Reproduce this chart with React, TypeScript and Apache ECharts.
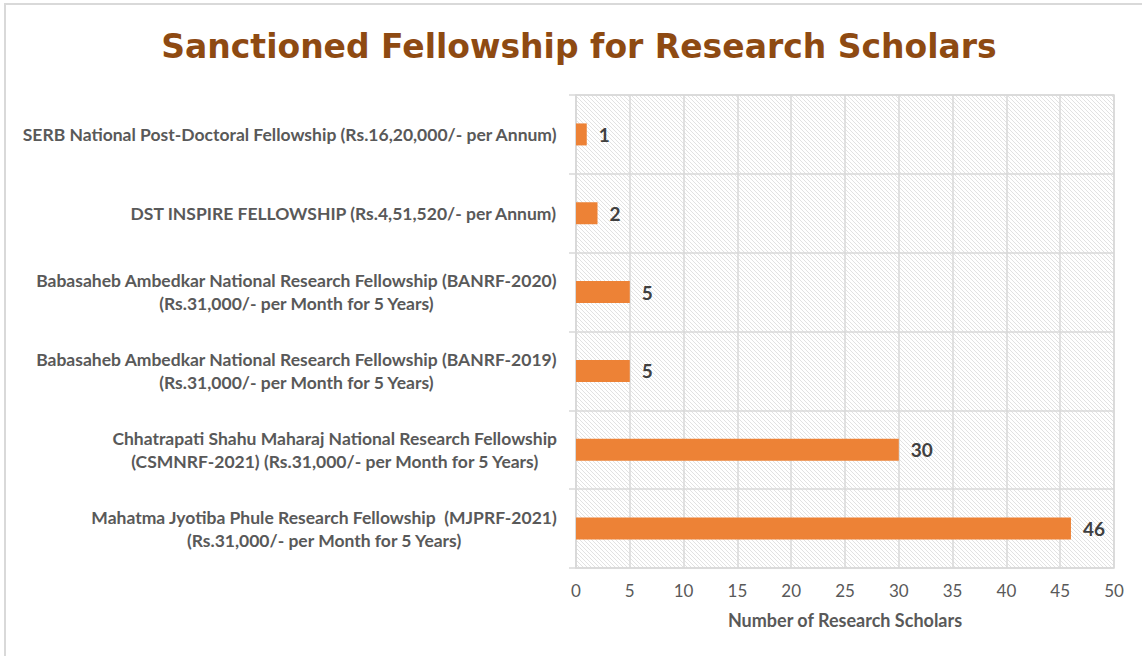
import React, { useEffect, useRef } from "react";
import * as echarts from "echarts";

const categories: string[] = [
  "Mahatma Jyotiba Phule Research Fellowship  (MJPRF-2021)\n(Rs.31,000/- per Month for 5 Years)",
  "Chhatrapati Shahu Maharaj National Research Fellowship\n(CSMNRF-2021) (Rs.31,000/- per Month for 5 Years)",
  "Babasaheb Ambedkar National Research Fellowship (BANRF-2019)\n(Rs.31,000/- per Month for 5 Years)",
  "Babasaheb Ambedkar National Research Fellowship (BANRF-2020)\n(Rs.31,000/- per Month for 5 Years)",
  "DST INSPIRE FELLOWSHIP (Rs.4,51,520/- per Annum)",
  "SERB National Post-Doctoral Fellowship (Rs.16,20,000/- per Annum)",
];
const scholars: number[] = [46, 30, 5, 5, 2, 1];

const titleText = "Sanctioned Fellowship for Research Scholars";
const xAxisName = "Number of Research Scholars";

function makeHatch(): HTMLCanvasElement {
  const c = document.createElement("canvas");
  c.width = 4;
  c.height = 4;
  const ctx = c.getContext("2d")!;
  ctx.fillStyle = "#ffffff";
  ctx.fillRect(0, 0, 4, 4);
  ctx.strokeStyle = "#e2e2e2";
  ctx.lineWidth = 1;
  ctx.beginPath();
  ctx.moveTo(-1, -1);
  ctx.lineTo(5, 5);
  ctx.moveTo(-1, 3);
  ctx.lineTo(1, 5);
  ctx.moveTo(3, -1);
  ctx.lineTo(5, 1);
  ctx.stroke();
  return c;
}

export default function App() {
  const ref = useRef<HTMLDivElement>(null);
  useEffect(() => {
    if (!ref.current) return;
    const chart = echarts.init(ref.current, null, { renderer: "svg" });
    const hatch = makeHatch();
    chart.setOption({
      animation: false,
      backgroundColor: "#ffffff",
      title: {
        text: titleText,
        left: 574,
        top: 25,
        textAlign: "center",
        textStyle: {
          fontFamily: "DejaVu Sans",
          fontWeight: "bold",
          fontSize: 33,
          color: "#8E4A12",
        },
      },
      graphic: [
        {
          type: "rect",
          shape: { x: 5, y: 4, width: 1160, height: 680 },
          style: { fill: "none", stroke: "#d9d9d9", lineWidth: 2 },
          silent: true,
          z: -1,
        },
      ],
      grid: {
        left: 576,
        right: 28,
        top: 95,
        bottom: 88,
        show: true,
        backgroundColor: {
          image: hatch,
          repeat: "repeat",
          imageWidth: 4,
          imageHeight: 4,
        } as any,
        borderColor: "#d9d9d9",
        borderWidth: 1.5,
      },
      xAxis: {
        type: "value",
        min: 0,
        max: 50,
        interval: 5,
        name: xAxisName,
        nameLocation: "middle",
        nameGap: 43,
        nameTextStyle: {
          fontFamily: "Lato",
          fontWeight: "bold",
          fontSize: 18,
          color: "#595959",
        },
        axisLine: { show: false },
        axisTick: { show: false },
        axisLabel: {
          margin: 14,
          fontFamily: "Lato",
          fontSize: 17,
          color: "#595959",
        },
        splitLine: { show: true, lineStyle: { color: "#d9d9d9", width: 1.5 } },
      },
      yAxis: {
        type: "category",
        data: categories,
        axisLine: { show: true, lineStyle: { color: "#d9d9d9", width: 1.5 } },
        axisTick: { show: true, length: 7, lineStyle: { color: "#d9d9d9", width: 1.5 } },
        splitLine: { show: true, lineStyle: { color: "#d9d9d9", width: 1.5 } },
        axisLabel: {
          margin: 19,
          formatter: (v: string) =>
            v
              .split("\n")
              .map((l) => "{c|" + l + "}")
              .join("\n"),
          rich: {
            c: {
              align: "center",
              fontFamily: "Lato",
              fontWeight: "bold",
              fontSize: 17.5,
              lineHeight: 23,
              color: "#595959",
            },
          },
        },
      },
      series: [
        {
          type: "bar",
          data: scholars,
          barWidth: 22,
          itemStyle: { color: "#ED8236" },
          label: {
            show: true,
            position: "right",
            distance: 12,
            fontFamily: "Lato",
            fontWeight: "bold",
            fontSize: 19,
            color: "#404040",
          },
        },
      ],
    });
    return () => chart.dispose();
  }, []);
  return (
    <div
      ref={ref}
      style={{ position: "absolute", left: 0, top: 0, width: 1142, height: 656 }}
    />
  );
}
